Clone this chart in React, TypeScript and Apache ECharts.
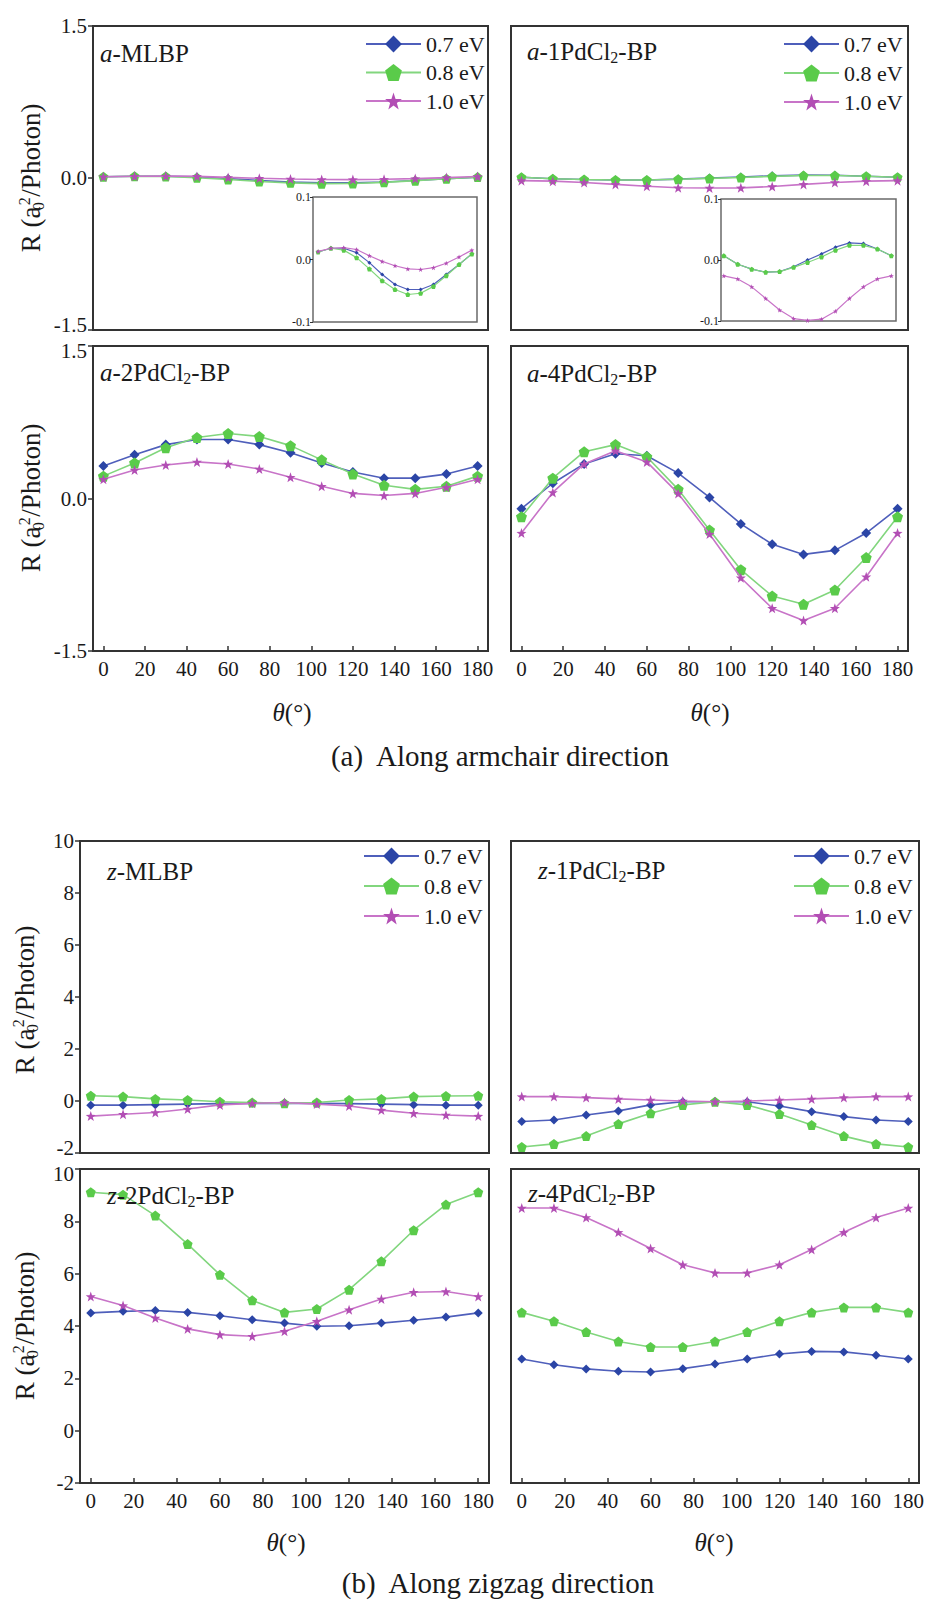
import React, { useEffect, useRef } from "react";
import * as echarts from "echarts";

const FONT = "Liberation Serif";

const thetas = [0, 15, 30, 45, 60, 75, 90, 105, 120, 135, 150, 165, 180];
const xTickValues = [0, 20, 40, 60, 80, 100, 120, 140, 160, 180];
const energyLabels = ["0.7 eV", "0.8 eV", "1.0 eV"];

// (a) armchair direction
const aMLBP_07 = [0.012, 0.018, 0.018, 0.011, -0.005, -0.024, -0.040, -0.048, -0.048, -0.040, -0.024, -0.008, 0.009];
const aMLBP_08 = [0.012, 0.018, 0.015, 0.003, -0.015, -0.034, -0.048, -0.056, -0.054, -0.043, -0.026, -0.008, 0.009];
const aMLBP_10 = [0.013, 0.018, 0.019, 0.016, 0.006, -0.003, -0.010, -0.015, -0.016, -0.013, -0.006, 0.004, 0.015];

const a1Pd_07 = [0.007, -0.007, -0.015, -0.020, -0.019, -0.011, 0.000, 0.010, 0.021, 0.028, 0.027, 0.018, 0.007];
const a1Pd_08 = [0.007, -0.007, -0.015, -0.020, -0.019, -0.012, -0.004, 0.005, 0.016, 0.024, 0.024, 0.018, 0.007];
const a1Pd_10 = [-0.026, -0.031, -0.044, -0.063, -0.082, -0.096, -0.099, -0.097, -0.084, -0.063, -0.044, -0.031, -0.026];

const a2Pd_07 = [0.32, 0.43, 0.53, 0.58, 0.58, 0.53, 0.45, 0.35, 0.26, 0.20, 0.20, 0.24, 0.32];
const a2Pd_08 = [0.22, 0.35, 0.50, 0.60, 0.64, 0.61, 0.52, 0.38, 0.24, 0.13, 0.09, 0.12, 0.22];
const a2Pd_10 = [0.19, 0.28, 0.33, 0.36, 0.34, 0.29, 0.21, 0.12, 0.05, 0.03, 0.05, 0.11, 0.19];

const a4Pd_07 = [-0.10, 0.15, 0.34, 0.44, 0.42, 0.25, 0.01, -0.25, -0.45, -0.55, -0.51, -0.34, -0.10];
const a4Pd_08 = [-0.18, 0.20, 0.46, 0.53, 0.41, 0.09, -0.31, -0.70, -0.96, -1.04, -0.90, -0.58, -0.18];
const a4Pd_10 = [-0.34, 0.06, 0.34, 0.47, 0.36, 0.05, -0.35, -0.78, -1.08, -1.20, -1.08, -0.77, -0.34];

// (b) zigzag direction
const zMLBP_07 = [-0.16, -0.16, -0.14, -0.12, -0.10, -0.09, -0.08, -0.09, -0.10, -0.12, -0.14, -0.16, -0.16];
const zMLBP_08 = [0.20, 0.17, 0.08, 0.04, -0.03, -0.06, -0.09, -0.06, 0.04, 0.08, 0.17, 0.19, 0.20];
const zMLBP_10 = [-0.58, -0.51, -0.44, -0.31, -0.15, -0.09, -0.06, -0.12, -0.19, -0.35, -0.47, -0.54, -0.58];

const z1Pd_07 = [-0.79, -0.73, -0.54, -0.38, -0.15, -0.03, -0.03, -0.03, -0.19, -0.41, -0.60, -0.73, -0.79];
const z1Pd_08 = [-1.77, -1.65, -1.35, -0.88, -0.47, -0.15, -0.03, -0.15, -0.50, -0.92, -1.35, -1.65, -1.77];
const z1Pd_10 = [0.17, 0.17, 0.13, 0.08, 0.04, 0.00, -0.03, 0.00, 0.04, 0.08, 0.13, 0.17, 0.17];

const z2Pd_07 = [4.50, 4.56, 4.59, 4.52, 4.39, 4.24, 4.11, 3.99, 4.01, 4.11, 4.22, 4.34, 4.50];
const z2Pd_08 = [9.11, 9.02, 8.22, 7.13, 5.96, 4.98, 4.52, 4.65, 5.39, 6.47, 7.66, 8.64, 9.11];
const z2Pd_10 = [5.13, 4.78, 4.31, 3.89, 3.67, 3.61, 3.80, 4.18, 4.62, 5.03, 5.29, 5.32, 5.13];

const z4Pd_07 = [2.74, 2.52, 2.36, 2.27, 2.24, 2.37, 2.55, 2.74, 2.93, 3.03, 3.01, 2.88, 2.74];
const z4Pd_08 = [4.52, 4.18, 3.77, 3.41, 3.20, 3.20, 3.41, 3.77, 4.18, 4.52, 4.71, 4.71, 4.52];
const z4Pd_10 = [8.51, 8.51, 8.15, 7.58, 6.96, 6.34, 6.03, 6.03, 6.34, 6.92, 7.58, 8.15, 8.51];

const LINE_COLORS = ["#4f5fbb", "#82d67e", "#c874c8"];
const MARK_COLORS = ["#2b45a6", "#5acb4a", "#b24eb4"];
const PENTAGON = "path://M50,0 L97.6,34.5 L79.4,90.5 L20.6,90.5 L2.4,34.5 Z";
const STAR =
  "path://M50,0 L61.75,33.8 L97.55,34.55 L69,56.2 L79.4,90.45 L50,70 L20.6,90.45 L31,56.2 L2.45,34.55 L38.25,33.8 Z";
const SYMBOLS = ["diamond", PENTAGON, STAR];

type Panel = {
  grid: { left: number; top: number; width: number; height: number };
  xMin: number;
  xMax: number;
  yMin: number;
  yMax: number;
  yInterval: number;
  decimals: number;
  yLabels: boolean;
  xLabels: boolean;
  xTicks: boolean;
  row: "top" | "bottom" | "inset";
  sizes: number[];
  data: number[][];
};

const panels: Panel[] = [
  { grid: { left: 93, top: 26, width: 395, height: 304 }, xMin: -5, xMax: 185, yMin: -1.5, yMax: 1.5, yInterval: 1.5, decimals: 1, yLabels: true, xLabels: false, xTicks: false, row: "top", sizes: [9, 10, 10], data: [aMLBP_07, aMLBP_08, aMLBP_10] },
  { grid: { left: 511, top: 26, width: 397, height: 304 }, xMin: -5, xMax: 185, yMin: -1.5, yMax: 1.5, yInterval: 1.5, decimals: 1, yLabels: false, xLabels: false, xTicks: false, row: "top", sizes: [9, 10, 10], data: [a1Pd_07, a1Pd_08, a1Pd_10] },
  { grid: { left: 93, top: 346, width: 395, height: 305 }, xMin: -5, xMax: 185, yMin: -1.5, yMax: 1.5, yInterval: 1.5, decimals: 1, yLabels: true, xLabels: true, xTicks: true, row: "bottom", sizes: [10, 11, 10], data: [a2Pd_07, a2Pd_08, a2Pd_10] },
  { grid: { left: 511, top: 346, width: 397, height: 305 }, xMin: -5, xMax: 185, yMin: -1.5, yMax: 1.5, yInterval: 1.5, decimals: 1, yLabels: false, xLabels: true, xTicks: true, row: "bottom", sizes: [10, 11, 10], data: [a4Pd_07, a4Pd_08, a4Pd_10] },
  { grid: { left: 313, top: 197, width: 164, height: 125 }, xMin: -6, xMax: 186, yMin: -0.1, yMax: 0.1, yInterval: 0.1, decimals: 1, yLabels: true, xLabels: false, xTicks: false, row: "inset", sizes: [4, 5, 5], data: [aMLBP_07, aMLBP_08, aMLBP_10] },
  { grid: { left: 721, top: 199, width: 175, height: 122 }, xMin: -3, xMax: 185, yMin: -0.1, yMax: 0.1, yInterval: 0.1, decimals: 1, yLabels: true, xLabels: false, xTicks: false, row: "inset", sizes: [4, 5, 5], data: [a1Pd_07, a1Pd_08, a1Pd_10] },
  { grid: { left: 80, top: 841, width: 409, height: 312 }, xMin: -5, xMax: 185, yMin: -2, yMax: 10, yInterval: 2, decimals: 0, yLabels: true, xLabels: false, xTicks: false, row: "top", sizes: [9, 10, 10], data: [zMLBP_07, zMLBP_08, zMLBP_10] },
  { grid: { left: 511, top: 841, width: 408, height: 312 }, xMin: -5, xMax: 185, yMin: -2, yMax: 10, yInterval: 2, decimals: 0, yLabels: false, xLabels: false, xTicks: false, row: "top", sizes: [9, 10, 10], data: [z1Pd_07, z1Pd_08, z1Pd_10] },
  { grid: { left: 80, top: 1169, width: 409, height: 314 }, xMin: -5, xMax: 185, yMin: -2, yMax: 10, yInterval: 2, decimals: 0, yLabels: true, xLabels: true, xTicks: true, row: "bottom", sizes: [9, 10, 10], data: [z2Pd_07, z2Pd_08, z2Pd_10] },
  { grid: { left: 511, top: 1169, width: 408, height: 314 }, xMin: -5, xMax: 185, yMin: -2, yMax: 10, yInterval: 2, decimals: 0, yLabels: false, xLabels: true, xTicks: true, row: "bottom", sizes: [9, 10, 10], data: [z4Pd_07, z4Pd_08, z4Pd_10] },
];

const legendPlaces = [
  { left: 365, top: 33, gap: 6.5 },
  { left: 783, top: 33, gap: 7 },
  { left: 363, top: 845, gap: 8 },
  { left: 793, top: 845, gap: 8 },
];

const panelTitles = [
  { x: 100, y: 53, text: "{i|a}-MLBP" },
  { x: 527, y: 51, text: "{i|a}-1PdCl{s|2}-BP" },
  { x: 100, y: 372, text: "{i|a}-2PdCl{s|2}-BP" },
  { x: 527, y: 373, text: "{i|a}-4PdCl{s|2}-BP" },
  { x: 107, y: 871, text: "{i|z}-MLBP" },
  { x: 538, y: 870, text: "{i|z}-1PdCl{s|2}-BP" },
  { x: 107, y: 1195, text: "{i|z}-2PdCl{s|2}-BP" },
  { x: 528, y: 1193, text: "{i|z}-4PdCl{s|2}-BP" },
];

const yTitles = [
  { x: 31, y: 178 },
  { x: 31, y: 498 },
  { x: 25, y: 1000 },
  { x: 25, y: 1326 },
];

const xTitles = [
  { x: 292, y: 712 },
  { x: 710, y: 712 },
  { x: 286, y: 1542 },
  { x: 714, y: 1542 },
];

const captions = [
  { x: 500, y: 756, text: "(a)  Along armchair direction" },
  { x: 498, y: 1583, text: "(b)  Along zigzag direction" },
];

function buildOption() {
  const grid: any[] = [];
  const xAxis: any[] = [];
  const yAxis: any[] = [];
  const series: any[] = [];

  panels.forEach((p, i) => {
    const inset = p.row === "inset";
    const z = inset ? 20 : 0;
    grid.push({
      ...p.grid,
      show: true,
      borderColor: inset ? "#6a6a6a" : "#333",
      borderWidth: inset ? 1.5 : 2,
      backgroundColor: inset ? "#ffffff" : "transparent",
      z,
    });
    xAxis.push({
      type: "value",
      gridIndex: i,
      min: p.xMin,
      max: p.xMax,
      position: "bottom",
      axisLine: { show: false, onZero: false },
      splitLine: { show: false },
      axisTick: {
        show: p.xTicks,
        inside: true,
        length: 5,
        customValues: xTickValues,
        lineStyle: { color: "#333", width: 1.5 },
      },
      axisLabel: {
        show: p.xLabels,
        customValues: xTickValues,
        fontFamily: FONT,
        fontSize: 21,
        color: "#1a1a1a",
        margin: 7,
      },
      z: z + 1,
    });
    const fs = inset ? 12 : 21;
    yAxis.push({
      type: "value",
      gridIndex: i,
      min: p.yMin,
      max: p.yMax,
      interval: p.yInterval,
      position: "left",
      axisLine: { show: false, onZero: false },
      splitLine: { show: false },
      axisTick: {
        show: p.yLabels,
        inside: false,
        length: inset ? 3 : 5,
        lineStyle: { color: "#333", width: inset ? 1 : 1.5 },
      },
      axisLabel: {
        show: p.yLabels,
        fontFamily: FONT,
        fontSize: fs,
        color: "#1a1a1a",
        margin: inset ? 2 : 6,
        formatter: (v: number) => {
          const r = Math.abs(v) < 1e-9 ? 0 : v;
          const s = r.toFixed(p.decimals);
          if (p.row === "top" && Math.abs(v - p.yMin) < 1e-9) return "{up|" + s + "}";
          if (p.row === "bottom" && Math.abs(v - p.yMax) < 1e-9) return "{dn|" + s + "}";
          return s;
        },
        rich: {
          up: { fontFamily: FONT, fontSize: fs, color: "#1a1a1a", padding: [0, 0, 10, 0] },
          dn: { fontFamily: FONT, fontSize: fs, color: "#1a1a1a", padding: [10, 0, 0, 0] },
        },
      },
      z: z + 1,
    });
    p.data.forEach((d, k) => {
      series.push({
        type: "line",
        name: energyLabels[k],
        xAxisIndex: i,
        yAxisIndex: i,
        data: thetas.map((t, j) => [t, d[j]]),
        symbol: SYMBOLS[k],
        symbolSize: p.sizes[k],
        showAllSymbol: true,
        lineStyle: { color: LINE_COLORS[k], width: inset ? 1.2 : 1.6 },
        itemStyle: { color: MARK_COLORS[k] },
        emphasis: { disabled: true },
        silent: true,
        z: z + 2 + k,
      });
    });
  });

  const legend = legendPlaces.map((l) => ({
    left: l.left,
    top: l.top,
    orient: "vertical",
    padding: 0,
    itemWidth: 55,
    itemHeight: 21,
    itemGap: l.gap,
    selectedMode: false,
    data: energyLabels,
    textStyle: { fontFamily: FONT, fontSize: 22, color: "#1a1a1a", lineHeight: 21 },
  }));

  const graphic: any[] = [];
  panelTitles.forEach((t) => {
    graphic.push({
      type: "text",
      x: t.x,
      y: t.y,
      z: 50,
      style: {
        text: t.text,
        fontFamily: FONT,
        fontSize: 25,
        fill: "#1a1a1a",
        align: "left",
        verticalAlign: "middle",
        lineHeight: 28,
        rich: {
          i: { fontFamily: FONT, fontSize: 25, fontStyle: "italic", fill: "#1a1a1a", lineHeight: 28 },
          s: { fontFamily: FONT, fontSize: 16, fill: "#1a1a1a", lineHeight: 14, verticalAlign: "bottom" },
        },
      },
    });
  });
  yTitles.forEach((t) => {
    graphic.push({
      type: "text",
      x: t.x,
      y: t.y,
      rotation: Math.PI / 2,
      style: {
        text: "R (a{sub|0}{sup|2}/Photon)",
        fontFamily: FONT,
        fontSize: 27,
        fill: "#1a1a1a",
        align: "center",
        verticalAlign: "middle",
        lineHeight: 30,
        rich: {
          sub: { fontFamily: FONT, fontSize: 16, fill: "#1a1a1a", lineHeight: 13, verticalAlign: "bottom", width: 1 },
          sup: { fontFamily: FONT, fontSize: 16, fill: "#1a1a1a", lineHeight: 13, verticalAlign: "top", width: 9 },
        },
      },
    });
  });
  xTitles.forEach((t) => {
    graphic.push({
      type: "text",
      x: t.x,
      y: t.y,
      style: {
        text: "{i|θ}(°)",
        fontFamily: FONT,
        fontSize: 25,
        fill: "#1a1a1a",
        align: "center",
        verticalAlign: "middle",
        rich: {
          i: { fontFamily: FONT, fontSize: 25, fontStyle: "italic", fill: "#1a1a1a" },
        },
      },
    });
  });
  captions.forEach((c) => {
    graphic.push({
      type: "text",
      x: c.x,
      y: c.y,
      style: {
        text: c.text,
        fontFamily: FONT,
        fontSize: 29,
        fill: "#1a1a1a",
        align: "center",
        verticalAlign: "middle",
      },
    });
  });

  return {
    animation: false,
    backgroundColor: "#ffffff",
    textStyle: { fontFamily: FONT },
    grid,
    xAxis,
    yAxis,
    series,
    legend,
    graphic,
  };
}

export default function App() {
  const ref = useRef<HTMLDivElement>(null);
  useEffect(() => {
    document.body.style.margin = "0";
    if (!ref.current) return;
    const chart = echarts.init(ref.current, undefined, { renderer: "svg" });
    chart.setOption(buildOption() as any);
    return () => {
      chart.dispose();
    };
  }, []);
  return <div ref={ref} style={{ width: 929, height: 1601 }} />;
}
